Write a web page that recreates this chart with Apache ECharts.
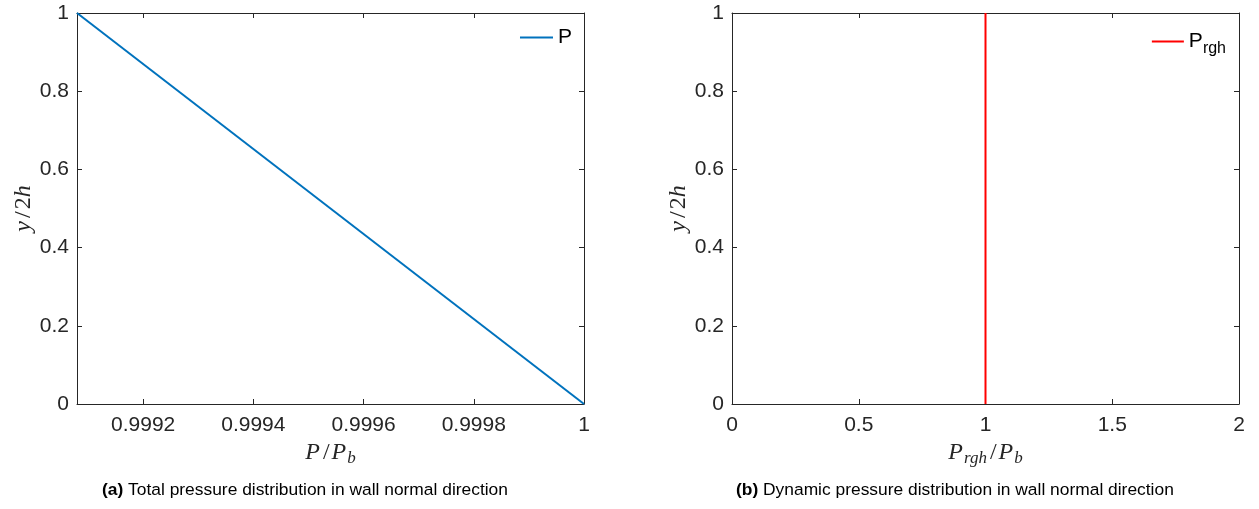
<!DOCTYPE html>
<html>
<head>
<meta charset="utf-8">
<script src="https://cdn.jsdelivr.net/npm/echarts@6/dist/echarts.min.js"></script>
<style>
html,body{margin:0;padding:0;background:#fff;}
#c{width:1259px;height:509px;}
</style>
</head>
<body>
<div id="c"></div>
<script>
// ---- data ----
const yValues = [0, 1];
const pValues = [1, 0.99908];
const prghValues = [1, 1];
const leftXTicks = [0.9992, 0.9994, 0.9996, 0.9998, 1];
const yTicks = [0, 0.2, 0.4, 0.6, 0.8, 1];
const rightXTicks = [0, 0.5, 1, 1.5, 2];
const captionA = ['(a)', ' Total pressure distribution in wall normal direction'];
const captionB = ['(b)', ' Dynamic pressure distribution in wall normal direction'];

const axisColor = '#262626';
const tickFont = {fontFamily: 'Liberation Sans', fontSize: 21, color: axisColor};
const mathRich = {
  i: {fontFamily: 'Liberation Serif', fontStyle: 'italic', fontSize: 24, color: axisColor},
  n: {fontFamily: 'Liberation Serif', fontSize: 24, color: axisColor},
  q: {fontFamily: 'Liberation Serif', fontSize: 24, color: axisColor, padding: [0, 2, 0, 3]},
  s: {fontFamily: 'Liberation Serif', fontStyle: 'italic', fontSize: 17, color: axisColor, verticalAlign: 'bottom', padding: [12, 0, 0, 1]}
};

function fmt(v) {
  if (Math.abs(v - 1) < 1e-12) return '1';
  if (Math.abs(v) < 1e-12) return '0';
  return String(parseFloat(v.toFixed(6)));
}

function baseX(gi, min, max, ticks, pos, showLabel, name) {
  return {
    type: 'value', gridIndex: gi, min: min, max: max, position: pos,
    axisLine: {show: true, onZero: false, lineStyle: {color: axisColor, width: 1}},
    axisTick: {show: true, inside: true, length: 5, customValues: ticks, lineStyle: {color: axisColor}},
    axisLabel: {show: showLabel, customValues: ticks, formatter: fmt, margin: 11, ...tickFont},
    splitLine: {show: false},
    name: name || '', nameLocation: 'middle', nameGap: 30,
    nameTextStyle: {rich: mathRich}
  };
}
function baseY(gi, pos, showLabel, name) {
  return {
    type: 'value', gridIndex: gi, min: 0, max: 1, position: pos,
    axisLine: {show: true, onZero: false, lineStyle: {color: axisColor, width: 1}},
    axisTick: {show: true, inside: true, length: 5, customValues: yTicks, lineStyle: {color: axisColor}},
    axisLabel: {show: showLabel, customValues: yTicks, formatter: fmt, margin: 8, ...tickFont},
    splitLine: {show: false},
    name: name || '', nameLocation: 'middle', nameGap: 40, nameRotate: 90,
    nameTextStyle: {rich: mathRich}
  };
}

const chart = echarts.init(document.getElementById('c'), null, {renderer: 'canvas'});
const option = {
  animation: false,
  backgroundColor: '#ffffff',
  grid: [
    {left: 77, right: 675, top: 13, bottom: 105},
    {left: 732, right: 20, top: 13, bottom: 105}
  ],
  xAxis: [
    baseX(0, pValues[1], 1, leftXTicks, 'bottom', true, '{i|P}{q|/}{i|P}{s|b}'),
    baseX(0, pValues[1], 1, leftXTicks, 'top', false),
    baseX(1, 0, 2, rightXTicks, 'bottom', true, '{i|P}{s|rgh}{q|/}{i|P}{s|b}'),
    baseX(1, 0, 2, rightXTicks, 'top', false)
  ],
  yAxis: [
    baseY(0, 'left', true, '{i|y}{q|/}{n|2}{i|h}'),
    baseY(0, 'right', false),
    baseY(1, 'left', true, '{i|y}{q|/}{n|2}{i|h}'),
    baseY(1, 'right', false)
  ],
  legend: [
    {
      data: ['P'], right: 682, top: 22, icon: 'rect', itemWidth: 33, itemHeight: 2, itemGap: 4,
      textStyle: {fontFamily: 'Liberation Sans', fontSize: 21, color: '#000'}
    },
    {
      data: ['Prgh'], right: 28, top: 26, icon: 'rect', itemWidth: 32, itemHeight: 2, itemGap: 4,
      formatter: function () { return '{a|P}{b|rgh}'; },
      textStyle: {
        fontFamily: 'Liberation Sans', fontSize: 21, color: '#000',
        rich: {
          a: {fontFamily: 'Liberation Sans', fontSize: 21, color: '#000'},
          b: {fontFamily: 'Liberation Sans', fontSize: 16, color: '#000', padding: [14, 0, 0, 0]}
        }
      }
    }
  ],
  series: [
    {
      name: 'P', type: 'line', xAxisIndex: 0, yAxisIndex: 0, showSymbol: false,
      data: yValues.map((y, i) => [pValues[i], y]),
      lineStyle: {color: '#0072BD', width: 2}, itemStyle: {color: '#0072BD'}
    },
    {
      name: 'Prgh', type: 'line', xAxisIndex: 2, yAxisIndex: 2, showSymbol: false,
      data: yValues.map((y, i) => [prghValues[i], y]),
      lineStyle: {color: '#FF0000', width: 2}, itemStyle: {color: '#FF0000'}
    }
  ],
  graphic: [
    {
      type: 'text', left: 102, top: 482,
      style: {
        text: '{b|' + captionA[0] + '}{r|' + captionA[1] + '}',
        rich: {
          b: {fontFamily: 'Liberation Sans', fontWeight: 'bold', fontSize: 17.4, fill: '#000'},
          r: {fontFamily: 'Liberation Sans', fontSize: 17.4, fill: '#000'}
        }
      }
    },
    {
      type: 'text', left: 736, top: 482,
      style: {
        text: '{b|' + captionB[0] + '}{r|' + captionB[1] + '}',
        rich: {
          b: {fontFamily: 'Liberation Sans', fontWeight: 'bold', fontSize: 17.4, fill: '#000'},
          r: {fontFamily: 'Liberation Sans', fontSize: 17.4, fill: '#000'}
        }
      }
    }
  ]
};
chart.setOption(option);
</script>
</body>
</html>
